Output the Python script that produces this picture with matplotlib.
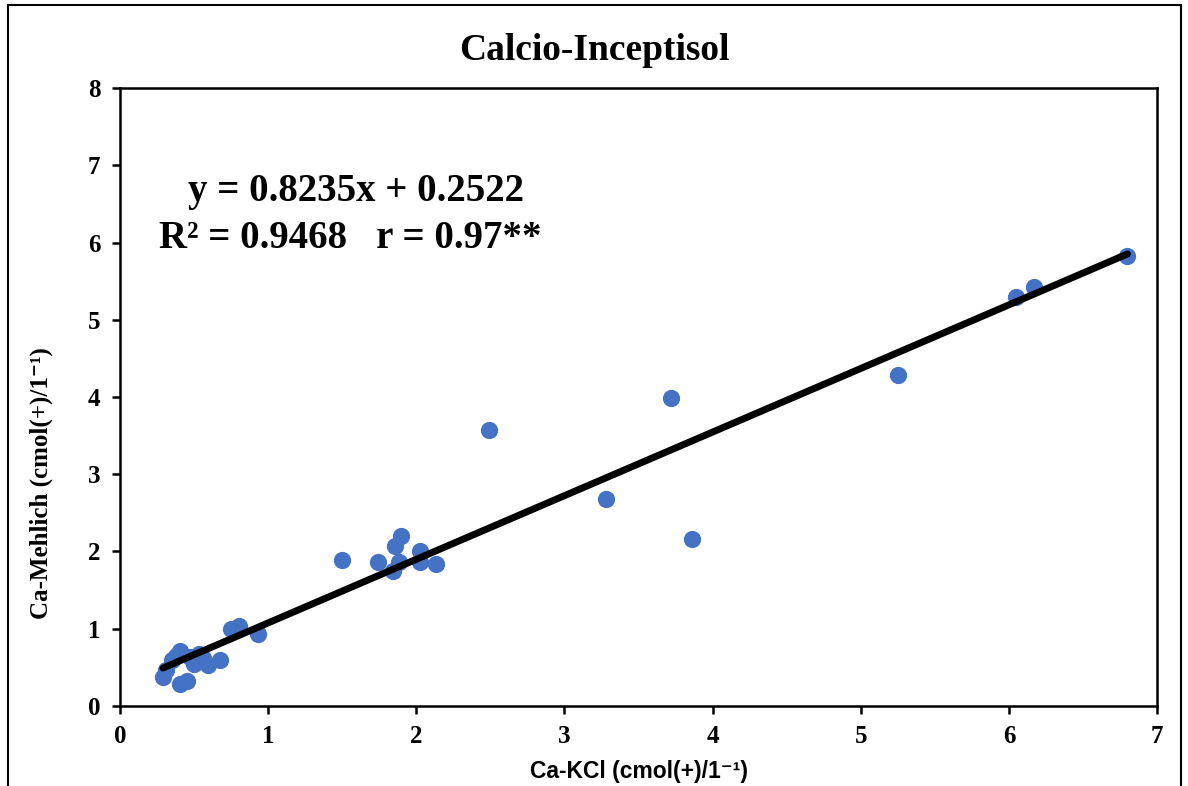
import matplotlib
matplotlib.use("Agg")
import matplotlib.pyplot as plt
from matplotlib.patches import Rectangle

# Data
ca_kcl = [0.29, 0.31, 0.35, 0.38, 0.405, 0.405, 0.45, 0.47, 0.50, 0.53,
          0.56, 0.595, 0.675, 0.75, 0.80, 0.93,
          1.50, 1.74, 1.845, 1.857, 1.88, 1.90, 2.025, 2.025, 2.13,
          2.49, 3.28, 3.72, 3.86, 5.25, 6.05, 6.17, 6.80]
ca_mehlich = [0.37, 0.47, 0.60, 0.65, 0.71, 0.28, 0.32, 0.63, 0.55, 0.67,
              0.62, 0.53, 0.60, 1.00, 1.04, 0.93,
              1.89, 1.87, 1.75, 2.07, 1.87, 2.20, 2.01, 1.87, 1.84,
              3.57, 2.68, 3.99, 2.16, 4.28, 5.30, 5.42, 5.83]

slope = 0.8235
intercept = 0.2522
x_ticks = [0, 1, 2, 3, 4, 5, 6, 7]
y_ticks = [0, 1, 2, 3, 4, 5, 6, 7, 8]

serif = ['Liberation Serif', 'DejaVu Serif']

fig = plt.figure(figsize=(11.88, 7.86), dpi=100)
ax = fig.add_axes([0.101, 0.1018, 0.873, 0.7862])

# outer frame of the chart
fig.patches.append(Rectangle((0.007, -0.01), 0.987, 1.0037, transform=fig.transFigure,
                             fill=False, edgecolor='black', linewidth=1.5))

ax.scatter(ca_kcl, ca_mehlich, s=130, color='#4472C4', zorder=2)

x_fit = [min(ca_kcl), max(ca_kcl)]
y_fit = [slope * v + intercept for v in x_fit]
ax.plot(x_fit, y_fit, color='black', linewidth=5, solid_capstyle='round', zorder=3)

ax.set_xlim(0, 7)
ax.set_ylim(0, 8)
ax.set_xticks(x_ticks)
ax.set_yticks(y_ticks)
for lab in ax.get_xticklabels() + ax.get_yticklabels():
    lab.set_family(serif)
    lab.set_fontweight('bold')
    lab.set_fontsize(18)
ax.tick_params(direction='out', length=6, width=1.8, pad=8)

for sp in ax.spines.values():
    sp.set_linewidth(1.8)

# title centred on the whole chart, like the spreadsheet original
fig.text(0.5, 0.936, 'Calcio-Inceptisol', ha='center', va='center',
         family=serif, fontweight='bold', fontsize=27)
ax.set_ylabel('Ca-Mehlich (cmol(+)/1⁻¹)', family=serif, fontweight='bold',
              fontsize=18, labelpad=22)
ax.yaxis.set_label_coords(-0.0645, 0.36)
ax.set_xlabel('Ca-KCl (cmol(+)/1⁻¹)', family=['Liberation Sans Narrow', 'Liberation Sans', 'DejaVu Sans'],
              fontweight='bold', fontsize=16.5, labelpad=8)

ax.text(0.228, 0.832, 'y = 0.8235x + 0.2522', transform=ax.transAxes, ha='center', va='center',
        family=serif, fontweight='bold', fontsize=28)
ax.text(0.222, 0.757, 'R² = 0.9468   r = 0.97**', transform=ax.transAxes, ha='center', va='center',
        family=serif, fontweight='bold', fontsize=28)

fig.savefig('out.png', dpi=100)
